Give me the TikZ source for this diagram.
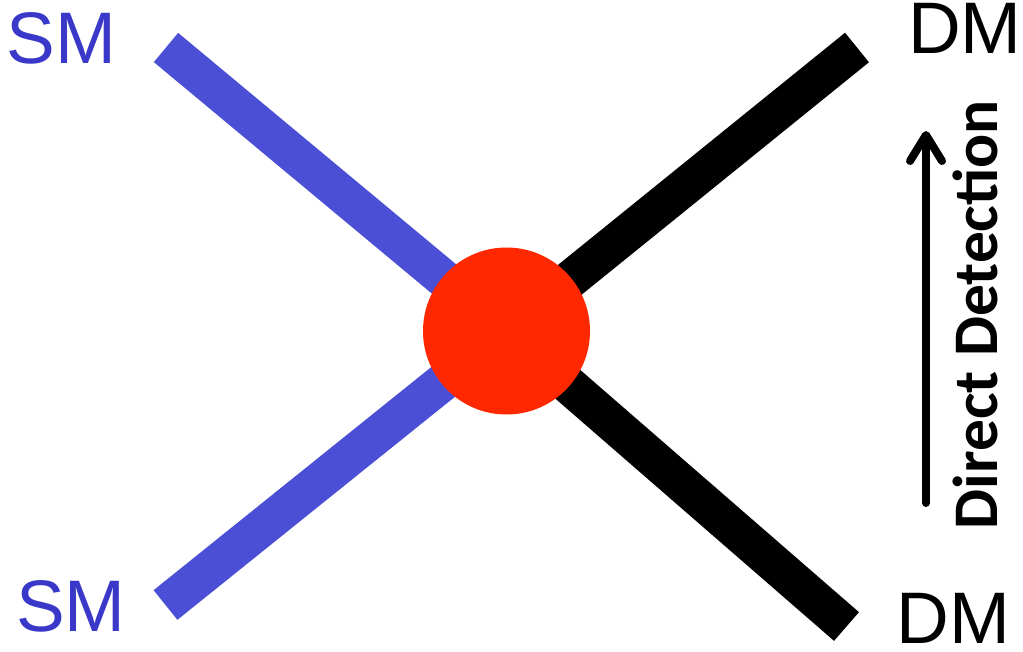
\documentclass[tikz,border=0pt]{standalone}
\usepackage{fontspec}
\setmainfont{Liberation Sans}
\newfontfamily\calib{Carlito}
\usetikzlibrary{arrows.meta}
\definecolor{smblue}{HTML}{4A4FD6}
\definecolor{smtext}{HTML}{3A38C8}
\definecolor{vred}{HTML}{FF2800}
\tikzset{
  leg/.style={line width=38pt},
  lbl/.style={inner sep=0pt, anchor=base, font=\fontsize{73}{80}\selectfont},
}
\begin{document}
\begin{tikzpicture}[x=1pt,y=-1pt]
\useasboundingbox (0,0) rectangle (1023,652);
\fill[white] (0,0) rectangle (1023,652);
\coordinate (c) at (506.5,331);
\coordinate (smtop) at (166,47.5);
\coordinate (smbot) at (165.5,605);
\coordinate (dmtop) at (857,47.5);
\coordinate (dmbot) at (846.5,626.5);
\draw[leg, smblue] (smtop) -- (c);
\draw[leg, smblue] (smbot) -- (c);
\draw[leg, black] (dmtop) -- (c);
\draw[leg, black] (dmbot) -- (c);
\node[circle, fill=vred, minimum size=167pt, inner sep=0pt] (vertex) at (c) {};
\node[lbl, text=smtext] (l1) at (61.5,64) {SM};
\node[lbl, text=smtext] (l2) at (71,631) {SM};
\node[lbl] (l3) at (965,54) {DM};
\node[lbl] (l4) at (953.5,643) {DM};
\node[inner sep=0pt, anchor=base, rotate=90, font=\calib\bfseries\fontsize{63.5}{70}\selectfont] (dd) at (997,314.5) {Direct Detection};
\coordinate (a0) at (926,503);
\coordinate (a1) at (926,131);
\draw[line width=8pt, line cap=round, -{Straight Barb[length=26pt,width=32pt,round]}] (a0) -- (a1);
\end{tikzpicture}
\end{document}
